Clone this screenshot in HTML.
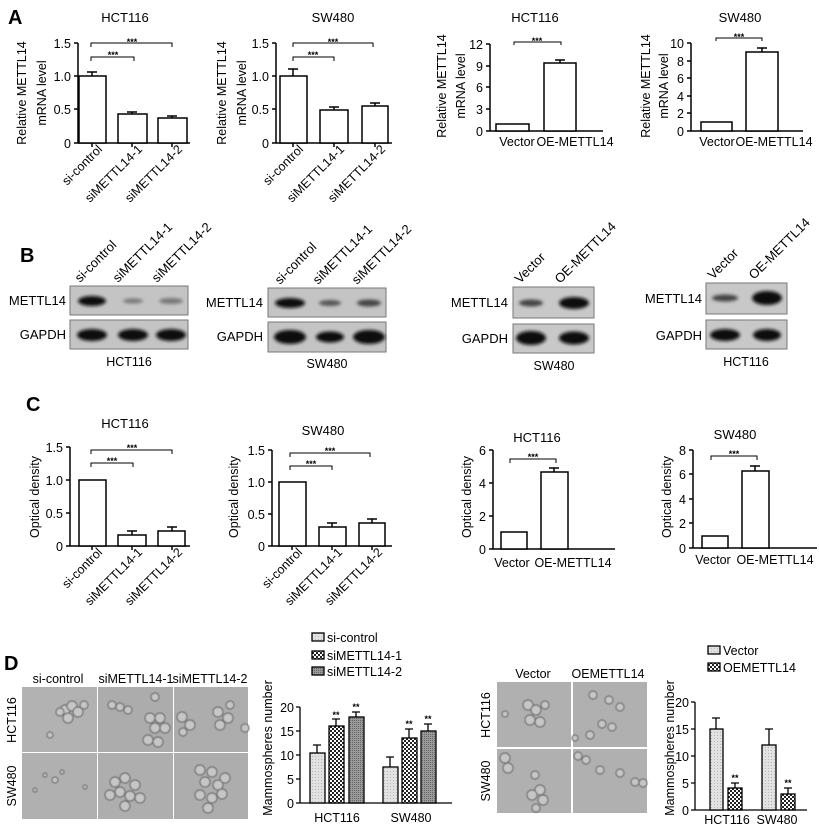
<!DOCTYPE html>
<html><head><meta charset="utf-8"><style>
body{margin:0;background:#fff}
svg{display:block;font-family:"Liberation Sans",Arial,sans-serif}
</style></head><body>
<svg width="819" height="832" viewBox="0 0 819 832" xmlns="http://www.w3.org/2000/svg">
<defs>
<pattern id="lt" width="3" height="3" patternUnits="userSpaceOnUse"><rect width="3" height="3" fill="#e2e2e2"/><rect width="1" height="1" fill="#b5b5b5"/></pattern>
<pattern id="ck" width="4" height="4" patternUnits="userSpaceOnUse"><rect width="4" height="4" fill="#fff"/><rect width="2" height="2" fill="#222"/><rect x="2" y="2" width="2" height="2" fill="#222"/></pattern>
<pattern id="dk" width="2" height="2" patternUnits="userSpaceOnUse"><rect width="2" height="2" fill="#9a9a9a"/><rect width="1" height="1" fill="#666"/></pattern>
<filter id="bl"><feGaussianBlur stdDeviation="1.6"/></filter>
<filter id="bl2"><feGaussianBlur stdDeviation="0.6"/></filter>
</defs>
<g font-size="13" fill="#000">
<text x="8" y="24" font-size="20" font-weight="bold">A</text>
<text x="20" y="262" font-size="20" font-weight="bold">B</text>
<text x="26" y="411" font-size="20" font-weight="bold">C</text>
<text x="4" y="670" font-size="20" font-weight="bold">D</text>
</g>

<g stroke="#000" stroke-width="1.5" fill="none">
<path d="M78,43V143H190M74,43H78M74,76H78M74,109H78M74,143H78M92,143v4M132,143v4M172,143v4"/>
<rect x="79" y="76" width="27" height="67" fill="#fff"/>
<rect x="118" y="114" width="29" height="29" fill="#fff"/>
<rect x="158" y="118" width="29" height="25" fill="#fff"/>
<path d="M92,76V72M87,72H97M132,114v-2M127,112h10M172,118v-2M167,116h10"/>
<path stroke-width="1" d="M91,47V43H172V47M91,61V57H134V61"/>
<path d="M276,43V143H392M272,43H276M272,76H276M272,109H276M272,143H276M293,143v4M334,143v4M375,143v4"/>
<rect x="280" y="76" width="27" height="67" fill="#fff"/>
<rect x="320" y="110" width="28" height="33" fill="#fff"/>
<rect x="362" y="106" width="26" height="37" fill="#fff"/>
<path d="M293,76V69M288,69H298M334,110v-3M329,107h10M375,106v-3M370,103h10"/>
<path stroke-width="1" d="M293,47V43H373V47M293,61V57H334V61"/>
<path d="M490,44V131H603M486,44H490M486,66H490M486,87H490M486,109H490M486,131H490"/>
<rect x="496" y="124" width="33" height="7" fill="#fff"/>
<rect x="544" y="63" width="32" height="68" fill="#fff"/>
<path d="M560,63V60M555,60H565"/>
<path stroke-width="1" d="M514,45V42H561V45"/>
<path d="M691,43V131H803M687,43H691M687,61H691M687,78H691M687,96H691M687,113H691M687,131H691"/>
<rect x="701" y="122" width="31" height="9" fill="#fff"/>
<rect x="746" y="52" width="32" height="79" fill="#fff"/>
<path d="M762,52V48M757,48H767"/>
<path stroke-width="1" d="M716,41V38H762V41"/>
<path d="M70,447V546H190M66,447H70M66,480H70M66,513H70M66,546H70M92,546v4M132,546v4M172,546v4"/>
<rect x="79" y="480" width="27" height="66" fill="#fff"/>
<rect x="118" y="535" width="28" height="11" fill="#fff"/>
<rect x="158" y="531" width="27" height="15" fill="#fff"/>
<path d="M132,535V531M127,531H137M172,531V527M167,527H177"/>
<path stroke-width="1" d="M91,454V450H172V454M91,467V463H133V467"/>
<path d="M272,450V546H392M268,450H272M268,482H272M268,514H272M268,546H272M292,546v4M332,546v4M372,546v4"/>
<rect x="279" y="482" width="27" height="64" fill="#fff"/>
<rect x="319" y="527" width="27" height="19" fill="#fff"/>
<rect x="359" y="523" width="26" height="23" fill="#fff"/>
<path d="M332,527V523M327,523H337M372,523V519M367,519H377"/>
<path stroke-width="1" d="M290,457V453H370V457M290,470V466H332V470"/>
<path d="M493,450V549H615M489,450H493M489,483H493M489,516H493M489,549H493"/>
<rect x="501" y="532" width="26" height="17" fill="#fff"/>
<rect x="541" y="472" width="27" height="77" fill="#fff"/>
<path d="M554,472V468M549,468H559"/>
<path stroke-width="1" d="M510,463V459H556V463"/>
<path d="M693,450V548H817M689,450H693M689,474H693M689,499H693M689,523H693M689,548H693"/>
<rect x="702" y="536" width="26" height="12" fill="#fff"/>
<rect x="742" y="471" width="27" height="77" fill="#fff"/>
<path d="M755,471V466M750,466H760"/>
<path stroke-width="1" d="M711,460V456H757V460"/>
</g>

<g font-size="12.5" fill="#000">
<text x="125" y="22" text-anchor="middle" font-size="13">HCT116</text>
<text x="333" y="22" text-anchor="middle" font-size="13">SW480</text>
<text x="535" y="22" text-anchor="middle" font-size="13">HCT116</text>
<text x="740" y="22" text-anchor="middle" font-size="13">SW480</text>
<g text-anchor="end">
<text x="71" y="48">1.5</text><text x="71" y="81">1.0</text><text x="71" y="114">0.5</text><text x="71" y="148">0</text>
<text x="269" y="48">1.5</text><text x="269" y="81">1.0</text><text x="269" y="114">0.5</text><text x="269" y="148">0</text>
<text x="483" y="49">12</text><text x="483" y="71">9</text><text x="483" y="92">6</text><text x="483" y="114">3</text><text x="483" y="136">0</text>
<text x="684" y="48">10</text><text x="684" y="66">8</text><text x="684" y="83">6</text><text x="684" y="101">4</text><text x="684" y="118">2</text><text x="684" y="136">0</text>
<text transform="translate(103,150) rotate(-45)">si-control</text>
<text transform="translate(143,150) rotate(-45)">siMETTL14-1</text>
<text transform="translate(183,150) rotate(-45)">siMETTL14-2</text>
<text transform="translate(304,150) rotate(-45)">si-control</text>
<text transform="translate(345,150) rotate(-45)">siMETTL14-1</text>
<text transform="translate(386,150) rotate(-45)">siMETTL14-2</text>
<text x="63" y="452">1.5</text><text x="63" y="485">1.0</text><text x="63" y="518">0.5</text><text x="63" y="551">0</text>
<text x="265" y="455">1.5</text><text x="265" y="487">1.0</text><text x="265" y="519">0.5</text><text x="265" y="551">0</text>
<text x="486" y="455">6</text><text x="486" y="488">4</text><text x="486" y="521">2</text><text x="486" y="554">0</text>
<text x="686" y="455">8</text><text x="686" y="479">6</text><text x="686" y="504">4</text><text x="686" y="528">2</text><text x="686" y="553">0</text>
<text transform="translate(103,553) rotate(-45)">si-control</text>
<text transform="translate(143,553) rotate(-45)">siMETTL14-1</text>
<text transform="translate(183,553) rotate(-45)">siMETTL14-2</text>
<text transform="translate(303,553) rotate(-45)">si-control</text>
<text transform="translate(343,553) rotate(-45)">siMETTL14-1</text>
<text transform="translate(383,553) rotate(-45)">siMETTL14-2</text>
</g>
<g text-anchor="middle">
<text x="517" y="146">Vector</text><text x="575" y="146">OE-METTL14</text>
<text x="717" y="146">Vector</text><text x="774" y="146">OE-METTL14</text>
<text x="512" y="567">Vector</text><text x="573" y="567">OE-METTL14</text>
<text x="713" y="564">Vector</text><text x="775" y="564">OE-METTL14</text>
<text transform="translate(26,93) rotate(-90)">Relative METTL14</text>
<text transform="translate(46,93) rotate(-90)">mRNA level</text>
<text transform="translate(226,93) rotate(-90)">Relative METTL14</text>
<text transform="translate(246,93) rotate(-90)">mRNA level</text>
<text transform="translate(446,86) rotate(-90)">Relative METTL14</text>
<text transform="translate(465,86) rotate(-90)">mRNA level</text>
<text transform="translate(650,86) rotate(-90)">Relative METTL14</text>
<text transform="translate(668,86) rotate(-90)">mRNA level</text>
<text transform="translate(39,497) rotate(-90)">Optical density</text>
<text transform="translate(238,497) rotate(-90)">Optical density</text>
<text transform="translate(471,497) rotate(-90)">Optical density</text>
<text transform="translate(671,497) rotate(-90)">Optical density</text>
<text x="125" y="428" font-size="13">HCT116</text>
<text x="323" y="435" font-size="13">SW480</text>
<text x="537" y="442" font-size="13">HCT116</text>
<text x="735" y="439" font-size="13">SW480</text>
</g>
<g font-size="9" font-weight="bold" text-anchor="middle">
<text x="132" y="45">***</text><text x="113" y="58">***</text>
<text x="333" y="45">***</text><text x="313" y="58">***</text>
<text x="537" y="44">***</text><text x="739" y="40">***</text>
<text x="132" y="451">***</text><text x="112" y="464">***</text>
<text x="330" y="454">***</text><text x="311" y="467">***</text>
<text x="533" y="460">***</text><text x="734" y="457">***</text>
</g>
</g>

<g>
<rect x="70" y="286" width="118" height="29" fill="#c4c4c4" stroke="#777"/>
<rect x="70" y="320" width="118" height="29" fill="#c4c4c4" stroke="#777"/>
<g filter="url(#bl)" fill="#111">
<ellipse cx="92" cy="301" rx="14" ry="5"/>
<ellipse cx="133" cy="301" rx="10" ry="2.5" fill="#777"/>
<ellipse cx="171" cy="301" rx="12" ry="3" fill="#777"/>
<ellipse cx="92" cy="335" rx="15" ry="6"/><ellipse cx="133" cy="335" rx="15" ry="6"/><ellipse cx="171" cy="335" rx="15" ry="6"/>
</g>
<rect x="268" y="288" width="118" height="29" fill="#c4c4c4" stroke="#777"/>
<rect x="268" y="322" width="118" height="30" fill="#c4c4c4" stroke="#777"/>
<g filter="url(#bl)" fill="#111">
<ellipse cx="290" cy="303" rx="15" ry="5"/>
<ellipse cx="330" cy="303" rx="11" ry="3" fill="#555"/>
<ellipse cx="369" cy="303" rx="12" ry="3.5" fill="#444"/>
<ellipse cx="290" cy="337" rx="16" ry="7"/><ellipse cx="330" cy="337" rx="14" ry="5.5"/><ellipse cx="369" cy="337" rx="16" ry="7"/>
</g>
<rect x="513" y="287" width="81" height="31" fill="#c8c8c8" stroke="#777"/>
<rect x="513" y="324" width="81" height="29" fill="#c8c8c8" stroke="#777"/>
<g filter="url(#bl)" fill="#111">
<ellipse cx="531" cy="303" rx="12" ry="3.5" fill="#444"/>
<ellipse cx="574" cy="303" rx="15" ry="6"/>
<ellipse cx="531" cy="338" rx="15" ry="7"/><ellipse cx="574" cy="338" rx="15" ry="6.5"/>
</g>
<rect x="706" y="283" width="81" height="31" fill="#c8c8c8" stroke="#777"/>
<rect x="706" y="320" width="81" height="29" fill="#c8c8c8" stroke="#777"/>
<g filter="url(#bl)" fill="#111">
<ellipse cx="725" cy="298" rx="13" ry="3.5" fill="#444"/>
<ellipse cx="767" cy="298" rx="15" ry="7"/>
<ellipse cx="725" cy="335" rx="15" ry="6"/><ellipse cx="767" cy="335" rx="14" ry="6"/>
</g>
<g font-size="13" text-anchor="end">
<text x="66" y="305">METTL14</text><text x="66" y="339">GAPDH</text>
<text x="263" y="307">METTL14</text><text x="263" y="341">GAPDH</text>
<text x="508" y="307">METTL14</text><text x="508" y="343">GAPDH</text>
<text x="702" y="303">METTL14</text><text x="702" y="340">GAPDH</text>
</g>
<g font-size="12.5" text-anchor="middle">
<text x="129" y="366">HCT116</text><text x="327" y="368">SW480</text>
<text x="554" y="370">SW480</text><text x="746" y="366">HCT116</text>
</g>
<g font-size="13">
<text transform="translate(80,283) rotate(-45)">si-control</text>
<text transform="translate(118,283) rotate(-45)">siMETTL14-1</text>
<text transform="translate(157,283) rotate(-45)">siMETTL14-2</text>
<text transform="translate(280,285) rotate(-45)">si-control</text>
<text transform="translate(318,285) rotate(-45)">siMETTL14-1</text>
<text transform="translate(357,285) rotate(-45)">siMETTL14-2</text>
<text transform="translate(520,284) rotate(-45)">Vector</text>
<text transform="translate(560,284) rotate(-45)">OE-METTL14</text>
<text transform="translate(713,280) rotate(-45)">Vector</text>
<text transform="translate(754,280) rotate(-45)">OE-METTL14</text>
</g>
</g>

<g>
<rect x="22" y="687" width="226" height="132" fill="#fff"/>
<rect x="22" y="687" width="75" height="65" fill="#b2b2b2"/>
<rect x="98" y="687" width="75" height="65" fill="#acacac"/>
<rect x="174" y="687" width="74" height="65" fill="#adadad"/>
<rect x="22" y="753" width="75" height="66" fill="#b0b0b0"/>
<rect x="98" y="753" width="75" height="66" fill="#aeaeae"/>
<rect x="174" y="753" width="74" height="66" fill="#adadad"/>
<rect x="497" y="682" width="74" height="65" fill="#b0b0b0"/>
<rect x="573" y="682" width="74" height="65" fill="#b0b0b0"/>
<rect x="497" y="749" width="74" height="64" fill="#b0b0b0"/>
<rect x="573" y="749" width="74" height="64" fill="#b0b0b0"/>
<g fill="#c6c6c6" stroke="#707070" stroke-width="1.2" filter="url(#bl2)">
<circle cx="65" cy="710" r="5"/><circle cx="72" cy="706" r="5"/><circle cx="78" cy="712" r="5"/><circle cx="68" cy="718" r="5"/><circle cx="60" cy="712" r="4"/><circle cx="84" cy="705" r="4"/><circle cx="50" cy="735" r="3"/>
<circle cx="112" cy="705" r="4"/><circle cx="120" cy="707" r="4"/><circle cx="128" cy="710" r="4"/><circle cx="155" cy="697" r="4"/>
<circle cx="150" cy="718" r="5"/><circle cx="160" cy="718" r="5"/><circle cx="155" cy="728" r="5"/><circle cx="165" cy="728" r="5"/><circle cx="148" cy="740" r="5"/><circle cx="158" cy="742" r="5"/>
<circle cx="182" cy="717" r="5"/><circle cx="190" cy="725" r="5"/><circle cx="183" cy="732" r="4"/><circle cx="218" cy="712" r="5"/><circle cx="228" cy="718" r="5"/><circle cx="220" cy="725" r="5"/><circle cx="230" cy="705" r="4"/><circle cx="245" cy="728" r="4"/>
<circle cx="45" cy="775" r="2"/><circle cx="55" cy="780" r="3"/><circle cx="62" cy="772" r="2"/><circle cx="35" cy="790" r="2"/><circle cx="85" cy="787" r="2"/>
<circle cx="115" cy="782" r="5"/><circle cx="125" cy="778" r="5"/><circle cx="135" cy="785" r="5"/><circle cx="120" cy="792" r="5"/><circle cx="130" cy="796" r="5"/><circle cx="140" cy="798" r="5"/><circle cx="110" cy="795" r="5"/><circle cx="125" cy="806" r="5"/>
<circle cx="200" cy="770" r="5"/><circle cx="212" cy="772" r="5"/><circle cx="205" cy="782" r="5"/><circle cx="218" cy="785" r="5"/><circle cx="200" cy="795" r="5"/><circle cx="212" cy="798" r="5"/><circle cx="222" cy="794" r="5"/><circle cx="208" cy="808" r="5"/><circle cx="225" cy="778" r="5"/>
<circle cx="528" cy="705" r="5"/><circle cx="536" cy="710" r="5"/><circle cx="530" cy="720" r="5"/><circle cx="540" cy="722" r="5"/><circle cx="545" cy="705" r="4"/><circle cx="505" cy="714" r="3"/>
<circle cx="593" cy="695" r="4"/><circle cx="609" cy="700" r="4"/><circle cx="602" cy="724" r="4"/><circle cx="612" cy="727" r="4"/><circle cx="590" cy="735" r="4"/><circle cx="575" cy="738" r="3"/><circle cx="620" cy="707" r="4"/>
<circle cx="505" cy="758" r="5"/><circle cx="508" cy="768" r="5"/><circle cx="535" cy="775" r="4"/><circle cx="540" cy="790" r="5"/><circle cx="532" cy="795" r="5"/><circle cx="543" cy="800" r="5"/><circle cx="536" cy="808" r="4"/>
<circle cx="578" cy="756" r="4"/><circle cx="586" cy="760" r="4"/><circle cx="600" cy="770" r="4"/><circle cx="620" cy="773" r="4"/><circle cx="635" cy="782" r="4"/><circle cx="643" cy="783" r="4"/>
</g>
<g font-size="12.5" text-anchor="middle">
<text x="58" y="683">si-control</text><text x="136" y="683">siMETTL14-1</text><text x="210" y="683">siMETTL14-2</text>
<text x="533" y="678">Vector</text><text x="608" y="678">OEMETTL14</text>
<text transform="translate(16,720) rotate(-90)">HCT116</text>
<text transform="translate(16,786) rotate(-90)">SW480</text>
<text transform="translate(490,715) rotate(-90)">HCT116</text>
<text transform="translate(490,781) rotate(-90)">SW480</text>
</g>
</g>

<g stroke="#000" stroke-width="1.3">
<path fill="none" d="M300,707V803H452M296,707H300M296,731H300M296,755H300M296,779H300M296,803H300"/>
<rect x="310" y="753" width="15" height="50" fill="url(#lt)"/>
<rect x="329" y="726" width="15" height="77" fill="url(#ck)"/>
<rect x="349" y="717" width="15" height="86" fill="url(#dk)"/>
<rect x="383" y="767" width="15" height="36" fill="url(#lt)"/>
<rect x="402" y="738" width="15" height="65" fill="url(#ck)"/>
<rect x="421" y="731" width="15" height="72" fill="url(#dk)"/>
<path fill="none" d="M317,753V745M313,745h8M336,726V719M332,719h8M356,717V712M352,712h8M390,767V757M386,757h8M409,738V729M405,729h8M428,731V724M424,724h8"/>
<path fill="none" d="M695,702V810H807M691,702H695M691,729H695M691,756H695M691,783H695M691,810H695"/>
<rect x="710" y="729" width="13" height="81" fill="url(#lt)"/>
<rect x="728" y="788" width="14" height="22" fill="url(#ck)"/>
<rect x="762" y="745" width="14" height="65" fill="url(#lt)"/>
<rect x="781" y="794" width="14" height="16" fill="url(#ck)"/>
<path fill="none" d="M716,729V718M712,718h8M735,788V783M731,783h8M769,745V729M765,729h8M788,794V788M784,788h8"/>
<rect x="312" y="633" width="12" height="8" fill="url(#lt)"/>
<rect x="312" y="651" width="12" height="8" fill="url(#ck)"/>
<rect x="312" y="667" width="12" height="8" fill="url(#dk)"/>
<rect x="708" y="646" width="12" height="8" fill="url(#lt)"/>
<rect x="708" y="663" width="12" height="8" fill="url(#ck)"/>
</g>
<g font-size="12.5">
<text x="327" y="642">si-control</text><text x="327" y="660">siMETTL14-1</text><text x="327" y="676">siMETTL14-2</text>
<text x="723" y="655">Vector</text><text x="723" y="672">OEMETTL14</text>
<g text-anchor="end">
<text x="294" y="712">20</text><text x="294" y="736">15</text><text x="294" y="760">10</text><text x="294" y="784">5</text><text x="294" y="808">0</text>
<text x="689" y="707">20</text><text x="689" y="734">15</text><text x="689" y="761">10</text><text x="689" y="788">5</text><text x="689" y="815">0</text>
</g>
<g text-anchor="middle">
<text x="337" y="822">HCT116</text><text x="411" y="822">SW480</text>
<text x="727" y="824">HCT116</text><text x="777" y="824">SW480</text>
<text transform="translate(272,748) rotate(-90)">Mammospheres number</text>
<text transform="translate(674,748) rotate(-90)">Mammospheres number</text>
<g font-size="9" font-weight="bold">
<text x="336" y="718">**</text><text x="356" y="710">**</text><text x="409" y="727">**</text><text x="428" y="722">**</text>
<text x="735" y="781">**</text><text x="788" y="786">**</text>
</g>
</g>
</g>
</svg>
</body></html>
